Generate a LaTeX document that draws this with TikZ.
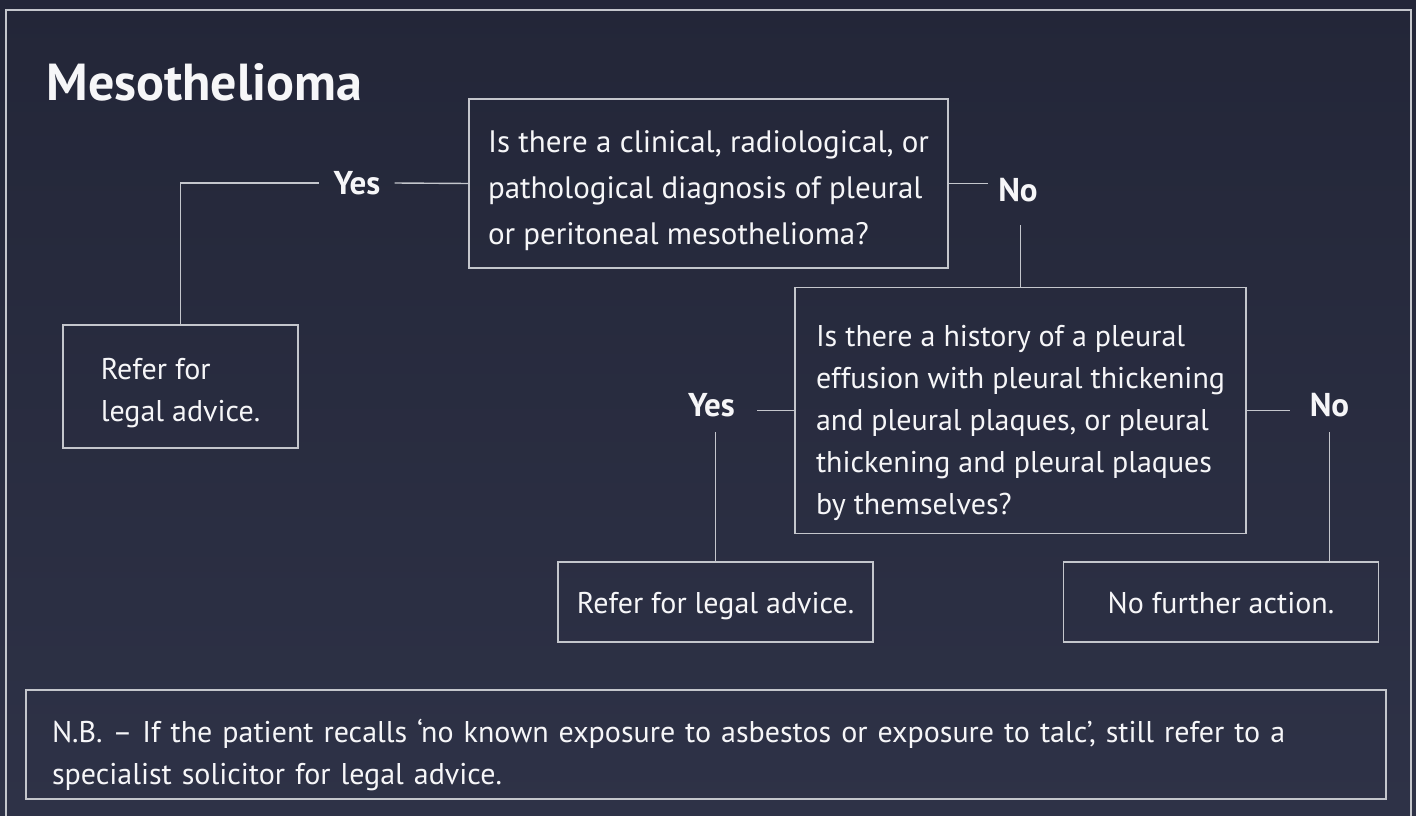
\documentclass[tikz,border=0pt]{standalone}
\usepackage{fontspec}
\setmainfont{PT Sans}
\usetikzlibrary{positioning}

\definecolor{bgtop}{RGB}{35,38,56}
\definecolor{bgbot}{RGB}{46,50,71}
\definecolor{rule}{RGB}{196,198,204}
\definecolor{ink}{RGB}{246,246,248}

% strut that pushes the first line of a box down
\newcommand{\lowerby}[1]{\rule{0pt}{#1}}

\tikzset{
  box/.style={draw=rule, line width=1.4pt, text=ink, align=left, inner sep=0pt},
  oneline/.style={box, text height=31pt, text depth=8pt},
  answer/.style={text=ink, font=\bfseries\fontsize{33}{38}\selectfont, inner sep=0pt},
  wire/.style={draw=rule, line width=1.4pt},
}

\begin{document}
\begin{tikzpicture}[x=1pt,y=-1pt,node distance=189pt]

% background and frame
\shade[top color=bgtop,bottom color=bgbot] (0,0) rectangle (1416,816);
\useasboundingbox (0,0) rectangle (1416,816);
\draw[rule, line width=1.6pt] (6,816) -- (6,10) -- (1411,10) -- (1411,816);

\node[anchor=base west, text=ink, font=\bfseries\fontsize{52}{60}\selectfont] (title) at (43,100) {Mesothelioma};

% questions
\node[box, minimum width=479pt, minimum height=169pt, font=\fontsize{31}{46}\selectfont] (q1) at (708.5,183.5)
  {\lowerby{37pt}Is there a clinical, radiological, or\\pathological diagnosis of pleural\\or peritoneal mesothelioma?};
\node[box, minimum width=451pt, minimum height=246pt, font=\fontsize{30}{42}\selectfont] (q2) at (1020.5,410.5)
  {\lowerby{46pt}Is there a history of a pleural\\effusion with pleural thickening\\and pleural plaques, or pleural\\thickening and pleural plaques\\by themselves?};

% outcomes
\node[box, minimum width=235pt, minimum height=123pt, font=\fontsize{30}{42}\selectfont] (refer1) at (180.5,386.5)
  {\lowerby{34pt}Refer for\\legal advice.};
\node[oneline, minimum width=315pt, minimum height=80pt, font=\fontsize{30}{42}\selectfont] (refer2) at (715.5,602)
  {Refer for legal advice.};
\node[oneline, minimum width=315pt, minimum height=80pt, font=\fontsize{30}{42}\selectfont] (none) [right=of refer2]
  {No further action.};

\node[box, text width=1308pt, inner xsep=26pt, minimum height=109pt, font=\fontsize{30}{42}\selectfont] (nb) at (706,744.5)
  {\lowerby{44pt}N.B. – If the patient recalls ‘no known exposure to asbestos or exposure to talc’, still refer to a\\specialist solicitor for legal advice.};

% answers
\node[answer, minimum width=75pt] (yes1) at (357,183) {Yes};
\node[answer, minimum width=60pt, minimum height=70pt] (no1) at (1018,190) {No};
\node[answer, minimum width=91pt, minimum height=54pt] (yes2) at (711.5,405) {Yes};
\node[answer, minimum width=79pt, minimum height=54pt] (no2) at (1329.5,405) {No};

% connectors
\draw[wire] (refer1.north) |- (yes1.west);
\draw[wire] (yes1.east) -- (q1.west);
\draw[wire] (q1.east) -- (q1.east -| no1.west);
\draw[wire] (no1.south -| q2.north) -- (q2.north);
\draw[wire] (q2.west) -- (q2.west -| yes2.east);
\draw[wire] (yes2.south -| refer2.north) -- (refer2.north);
\draw[wire] (q2.east) -- (q2.east -| no2.west);
\draw[wire] (no2.south) -- (no2.south |- none.north);

\end{tikzpicture}
\end{document}
